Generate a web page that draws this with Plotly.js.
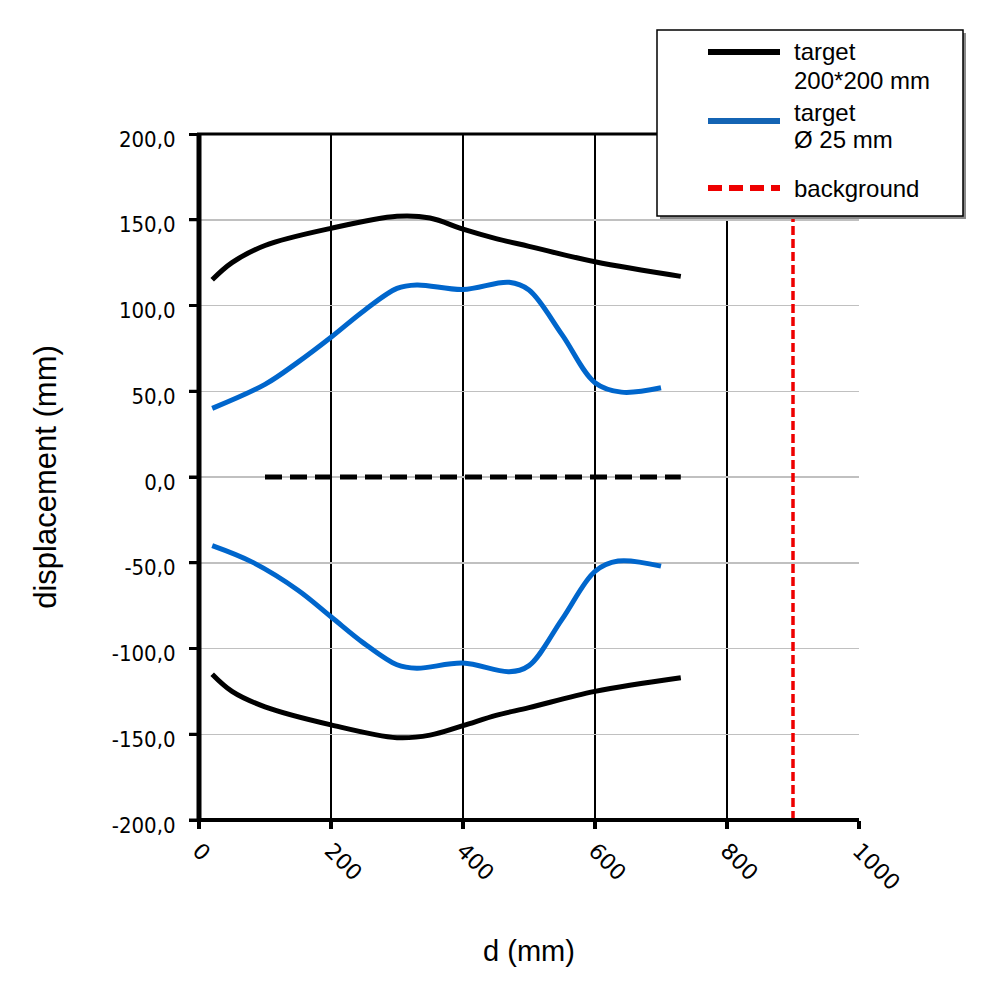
<!DOCTYPE html>
<html>
<head>
<meta charset="utf-8">
<script src="https://cdn.plot.ly/plotly-3.0.1.min.js"></script>
<style>html,body{margin:0;padding:0;background:#fff;}#chart{width:1000px;height:1000px;}</style>
</head>
<body>
<div id="chart"></div>
<script>
// Target 200*200 mm (upper and lower envelopes)
const blackUpX = [20, 50, 100, 200, 300, 350, 400, 450, 500, 600, 730];
const blackUpY = [115, 125, 135, 145, 152, 151, 144.5, 139, 134.5, 125.5, 117];
const blackLoX = [20, 50, 100, 200, 300, 350, 400, 450, 500, 600, 730];
const blackLoY = [-115, -125, -134, -144.5, -152, -150.5, -145, -139, -134.5, -125, -117];
// Target Ø 25 mm (upper and lower envelopes)
const blueUpX = [20, 100, 150, 200, 250, 300, 330, 400, 470, 500, 550, 600, 640, 700];
const blueUpY = [40, 54, 67, 81.5, 97, 110, 112, 109.3, 113.5, 109, 83, 55, 49.5, 52];
const blueLoX = [20, 80, 150, 200, 250, 300, 330, 400, 470, 500, 550, 600, 635, 700];
const blueLoY = [-40, -49.5, -66, -81.5, -97, -109.5, -111.5, -108.5, -113.5, -110, -83, -55, -49, -52];
// Centre line (dashed) and background position
const centreX = [100, 730];
const centreY = [0, 0];
const backgroundX = [900, 900];
const backgroundY = [-200, 200];
// Tick labels
const yTickVals = [-200, -150, -100, -50, 0, 50, 100, 150, 200];
const yTickText = ["-200,0", "-150,0", "-100,0", "-50,0", "0,0", "50,0", "100,0", "150,0", "200,0"];
const xTickVals = [0, 200, 400, 600, 800, 1000];
const xTickText = ["0", "200", "400", "600", "800", "1000"];
// Legend labels
const legendLines = [["target", "200*200 mm"], ["target", "Ø 25 mm"], ["background"]];

const BLACK = "#000000", BLUE = "#0066cc", RED = "#ee0000";

const M = {l: 199, r: 141, t: 134, b: 180};
const PW = 1000 - M.l - M.r, PH = 1000 - M.t - M.b;
const px = v => (v - M.l) / PW;          // pixel x -> paper x
const py = v => (1000 - M.b - v) / PH;   // pixel y -> paper y

const traces = [
  {x: centreX, y: centreY, mode: "lines", line: {color: BLACK, width: 5, dash: "17px,8px"}, showlegend: false, hoverinfo: "skip"},
  {x: blackUpX, y: blackUpY, mode: "lines", name: "target 200*200 mm",
   line: {color: BLACK, width: 5, shape: "spline", smoothing: 1}},
  {x: blackLoX, y: blackLoY, mode: "lines", name: "target 200*200 mm",
   line: {color: BLACK, width: 5, shape: "spline", smoothing: 1}},
  {x: blueUpX, y: blueUpY, mode: "lines", name: "target Ø 25 mm",
   line: {color: BLUE, width: 5, shape: "spline", smoothing: 1}},
  {x: blueLoX, y: blueLoY, mode: "lines", name: "target Ø 25 mm",
   line: {color: BLUE, width: 5, shape: "spline", smoothing: 1}},
  {x: backgroundX, y: backgroundY, mode: "lines", name: "background",
   line: {color: RED, width: 3.5, dash: "9px,4px"}}
];

const legendFont = {family: "Liberation Sans, Arial, Helvetica, sans-serif", size: 24, color: "#000"};

const shapes = [
  // axis frame lines
  {type: "line", xref: "paper", yref: "paper", x0: 0, x1: 0, y0: py(822), y1: py(133), line: {color: BLACK, width: 5}, layer: "above"},
  {type: "line", xref: "paper", yref: "paper", x0: px(197), x1: 1, y0: 0, y1: 0, line: {color: BLACK, width: 4}, layer: "above"},
  {type: "line", xref: "paper", yref: "paper", x0: px(197), x1: 1, y0: 1, y1: 1, line: {color: BLACK, width: 3}, layer: "above"},
  // y tick marks drawn outside the left axis line
  ...yTickVals.map(v => ({type: "line", xref: "paper", yref: "y", x0: px(189), x1: px(199), y0: v, y1: v, line: {color: BLACK, width: 3}, layer: "above"})),
  // legend box (shadow + frame)
  {type: "rect", xref: "paper", yref: "paper", x0: px(660), x1: px(966), y0: py(219), y1: py(33), fillcolor: "#8a8a8a", line: {width: 0}, layer: "above"},
  {type: "rect", xref: "paper", yref: "paper", x0: px(657), x1: px(963), y0: py(216), y1: py(30), fillcolor: "#ffffff", line: {color: BLACK, width: 1.5}, layer: "above"},
  // legend samples
  {type: "line", xref: "paper", yref: "paper", x0: px(708), x1: px(780), y0: py(52), y1: py(52), line: {color: BLACK, width: 6}, layer: "above"},
  {type: "line", xref: "paper", yref: "paper", x0: px(708), x1: px(780), y0: py(121), y1: py(121), line: {color: "#1464b4", width: 6}, layer: "above"},
  {type: "line", xref: "paper", yref: "paper", x0: px(708), x1: px(780), y0: py(188), y1: py(188), line: {color: RED, width: 6, dash: "14px,7px"}, layer: "above"}
];

const legendRows = [
  [legendLines[0][0], 52], [legendLines[0][1], 80],
  [legendLines[1][0], 112], [legendLines[1][1], 140],
  [legendLines[2][0], 188]
];
const annotations = legendRows.map(([t, y]) => ({
  text: t, xref: "paper", yref: "paper", x: px(792), y: py(y),
  xanchor: "left", yanchor: "middle", showarrow: false, font: legendFont, align: "left"
}));

const yTickFont = {family: "DejaVu Sans Condensed, DejaVu Sans, Verdana, sans-serif", size: 22, color: "#000"};
const xTickFont = {family: "DejaVu Sans, Verdana, sans-serif", size: 22, color: "#000"};
const titleFontX = {family: "Liberation Sans, Arial, Helvetica, sans-serif", size: 29, color: "#000"};
const titleFontY = {family: "Liberation Sans, Arial, Helvetica, sans-serif", size: 31, color: "#000"};

const layout = {
  width: 1000, height: 1000,
  margin: {l: M.l, r: M.r, t: M.t, b: M.b, pad: 0},
  paper_bgcolor: "#fff", plot_bgcolor: "#fff",
  showlegend: false,
  shapes: shapes,
  annotations: annotations,
  xaxis: {
    range: [0, 1000], tickmode: "array", tickvals: xTickVals, ticktext: xTickText,
    tickangle: 45, tickfont: xTickFont,
    showgrid: true, gridcolor: BLACK, gridwidth: 1.5, zeroline: false,
    showline: false,
    ticks: "outside", ticklen: 8, tickwidth: 4, tickcolor: BLACK,
    title: {text: "d (mm)", font: titleFontX, standoff: 46},
    automargin: false, fixedrange: true
  },
  yaxis: {
    range: [-200, 200], tickmode: "array", tickvals: yTickVals, ticktext: yTickText,
    tickfont: yTickFont, ticklabelshift: 5,
    showgrid: true, gridcolor: "#c0c0c0", gridwidth: 1.5, zeroline: false,
    showline: false,
    ticks: "outside", ticklen: 9, tickwidth: 3, tickcolor: BLACK,
    ticklabelstandoff: 9,
    title: {text: "displacement (mm)", font: titleFontY, standoff: 45},
    automargin: false, fixedrange: true
  }
};

Plotly.newPlot("chart", traces, layout, {staticPlot: true, displayModeBar: false});
</script>
</body>
</html>
